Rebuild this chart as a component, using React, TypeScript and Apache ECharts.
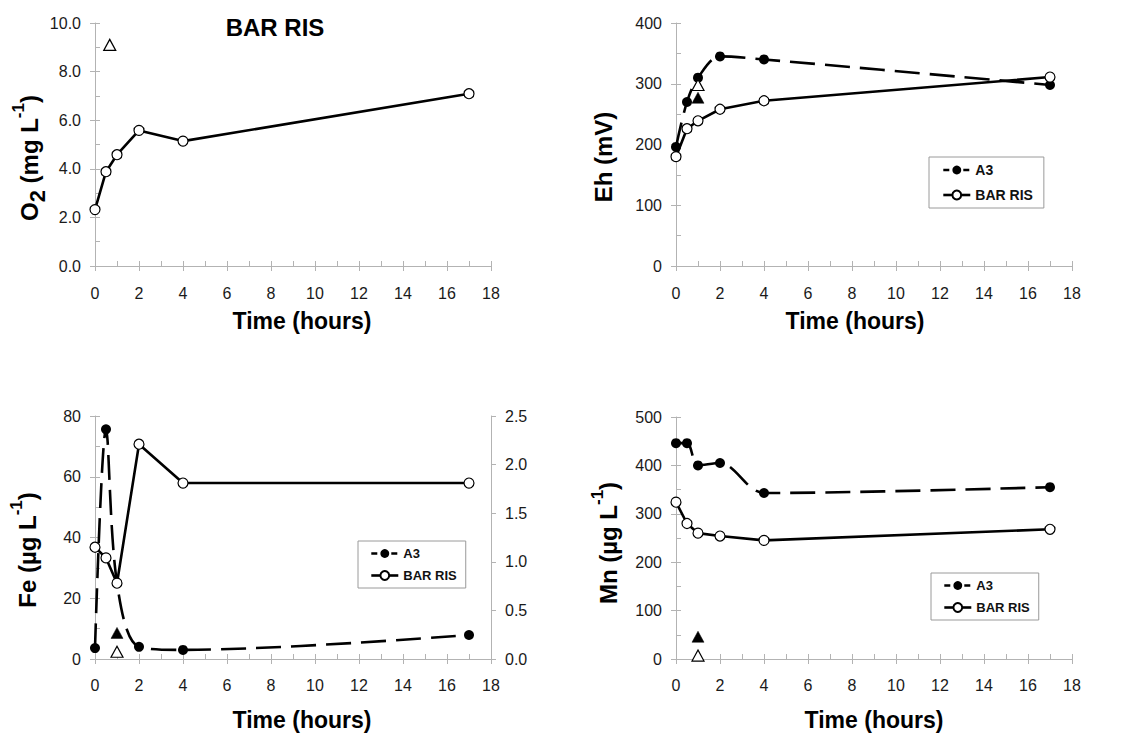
import React, { useEffect, useRef } from "react";
import * as echarts from "echarts";

// Sampling times (hours) shared by every series
const hours = [0, 0.5, 1, 2, 4, 17];

// Dissolved oxygen, mg/L
const o2BarRis = [2.32, 3.88, 4.58, 5.58, 5.14, 7.09];
const o2OpenTriangle = [[0.67, 9.1]];

// Redox potential, mV
const ehA3 = [196, 270, 310, 345, 340, 298];
const ehBarRis = [180, 226, 239, 258, 272, 311];
const ehFilledTriangle = [[1, 277]];
const ehOpenTriangle = [[1, 298]];

// Iron, µg/L (BAR RIS read on the secondary axis)
const feA3 = [3.6, 75.6, 25, 4.0, 3.0, 7.9];
const feBarRis = [1.15, 1.04, 0.78, 2.21, 1.81, 1.81];
const feFilledTriangle = [[1, 8.6]];
const feOpenTriangle = [[1, 2.4]];

// Manganese, µg/L
const mnA3 = [446, 446, 400, 405, 343, 355];
const mnBarRis = [324, 280, 260, 254, 245, 268];
const mnFilledTriangle = [[1, 46]];
const mnOpenTriangle = [[1, 7]];

const legendNames = ["A3", "BAR RIS"];

const FONT = '"Liberation Sans", Arial, Helvetica, sans-serif';
const AXIS_GRAY = "#b3b3b3";
const LABEL_COLOR = "#1a1a1a";

const grids = [
  { left: 95, top: 23, width: 396, height: 243 },
  { left: 676, top: 23, width: 396, height: 243 },
  { left: 95, top: 416, width: 396, height: 243 },
  { left: 676, top: 417, width: 396, height: 242 },
];

function timeAxes(gridIndex: number, labelMargin: number) {
  return [
    {
      type: "value",
      gridIndex,
      position: "bottom",
      min: 0,
      max: 18,
      interval: 2,
      axisLine: { show: true, onZero: false, lineStyle: { color: AXIS_GRAY, width: 1 } },
      axisTick: { show: true, inside: false, length: 5, lineStyle: { color: AXIS_GRAY } },
      axisLabel: { color: LABEL_COLOR, fontSize: 16, fontFamily: FONT, margin: labelMargin },
      splitLine: { show: false },
    },
    {
      type: "value",
      gridIndex,
      position: "bottom",
      min: 0,
      max: 18,
      interval: 1,
      axisLine: { show: false },
      axisTick: { show: true, inside: true, length: 5, lineStyle: { color: AXIS_GRAY } },
      axisLabel: { show: false },
      splitLine: { show: false },
    },
  ];
}

function valueAxes(gridIndex: number, max: number, interval: number, decimals: number) {
  return [
    {
      type: "value",
      gridIndex,
      position: "left",
      min: 0,
      max,
      interval,
      axisLine: { show: true, onZero: false, lineStyle: { color: AXIS_GRAY, width: 1 } },
      axisTick: { show: true, inside: false, length: 5, lineStyle: { color: AXIS_GRAY } },
      axisLabel: {
        color: LABEL_COLOR,
        fontSize: 16,
        fontFamily: FONT,
        margin: 14,
        formatter: (v: number) => v.toFixed(decimals),
      },
      splitLine: { show: false },
    },
    {
      type: "value",
      gridIndex,
      position: "left",
      min: 0,
      max,
      interval: interval / 2,
      axisLine: { show: false, onZero: false },
      axisTick: { show: true, inside: true, length: 5, lineStyle: { color: AXIS_GRAY } },
      axisLabel: { show: false },
      splitLine: { show: false },
    },
  ];
}

const pairs = (ys: number[]) => hours.map((h, i) => [h, ys[i]]);

function lineSeries(
  name: string,
  xAxisIndex: number,
  yAxisIndex: number,
  ys: number[],
  filled: boolean,
  smooth: boolean
) {
  return {
    type: "line",
    name,
    xAxisIndex,
    yAxisIndex,
    data: pairs(ys),
    symbol: "circle",
    symbolSize: 10,
    smooth: smooth ? 0.33 : false,
    z: filled ? 2 : 3,
    itemStyle: filled
      ? { color: "#000", borderColor: "#000", borderWidth: 0 }
      : { color: "#fff", borderColor: "#000", borderWidth: 1.2 },
    lineStyle: { color: "#000", width: 2.6, type: filled ? [25, 10] : "solid" },
    emphasis: { disabled: true },
  };
}

function triangle(name: string, xAxisIndex: number, yAxisIndex: number, data: number[][], filled: boolean) {
  return {
    type: "scatter",
    name,
    xAxisIndex,
    yAxisIndex,
    data,
    symbol: "triangle",
    symbolSize: [12, 11],
    z: 4,
    itemStyle: filled
      ? { color: "#000", borderColor: "#000", borderWidth: 0.5, opacity: 1 }
      : { color: "#fff", borderColor: "#000", borderWidth: 1.2, opacity: 1 },
    emphasis: { disabled: true },
  };
}

function legendBox(left: number, top: number, fontSize: number, gap: number, padding: number[]) {
  return {
    show: true,
    orient: "vertical",
    left,
    top,
    padding,
    itemGap: gap,
    itemWidth: 27,
    itemHeight: 11,
    borderColor: "#9a9a9a",
    borderWidth: 1,
    backgroundColor: "#fff",
    selectedMode: false,
    textStyle: { color: "#111", fontSize, fontWeight: "bold", fontFamily: FONT },
    data: [
      { name: legendNames[0], lineStyle: { type: [6, 4], width: 2.6 } },
      { name: legendNames[1], lineStyle: { type: "solid", width: 2.6 } },
    ],
  };
}

const titleFont = `bold 23px ${FONT}`;

function xTitle(x: number, y: number) {
  return {
    type: "text",
    x,
    y,
    silent: true,
    style: {
      text: "Time (hours)",
      font: titleFont,
      fill: "#000",
      textAlign: "center",
      textVerticalAlign: "middle",
      align: "center",
      verticalAlign: "middle",
    },
  };
}

const richTitle = {
  b: { fontSize: 24, fontWeight: "bold", fontFamily: FONT, color: "#000", lineHeight: 38 },
  sub: { fontSize: 22, fontWeight: "bold", fontFamily: FONT, color: "#000", lineHeight: 32, verticalAlign: "bottom" },
  sup: { fontSize: 17, fontWeight: "bold", fontFamily: FONT, color: "#000", lineHeight: 17, verticalAlign: "top" },
};

function yTitle(x: number, y: number, text: string) {
  return {
    type: "text",
    x,
    y,
    rotation: Math.PI / 2,
    silent: true,
    style: {
      text,
      rich: richTitle,
      fill: "#000",
      textAlign: "center",
      textVerticalAlign: "middle",
      align: "center",
      verticalAlign: "middle",
    },
  };
}

export default function App() {
  const ref = useRef<HTMLDivElement>(null);

  useEffect(() => {
    if (!ref.current) return;
    const chart = echarts.init(ref.current, null, { renderer: "svg" });

    const xAxis = [
      ...timeAxes(0, 19),
      ...timeAxes(1, 19),
      ...timeAxes(2, 18),
      ...timeAxes(3, 18),
    ];

    const yAxis = [
      ...valueAxes(0, 10, 2, 1), // 0,1
      ...valueAxes(1, 400, 100, 0), // 2,3
      ...valueAxes(2, 80, 20, 0), // 4,5
      {
        type: "value",
        gridIndex: 2,
        position: "right",
        min: 0,
        max: 2.5,
        interval: 0.5,
        axisLine: { show: true, onZero: false, lineStyle: { color: AXIS_GRAY, width: 1 } },
        axisTick: { show: true, inside: false, length: 5, lineStyle: { color: AXIS_GRAY } },
        axisLabel: {
          color: LABEL_COLOR,
          fontSize: 16,
          fontFamily: FONT,
          margin: 14,
          formatter: (v: number) => v.toFixed(1),
        },
        splitLine: { show: false },
      }, // 6
      ...valueAxes(3, 500, 100, 0), // 7,8
    ];

    const series = [
      // O2
      lineSeries("BAR RIS", 0, 0, o2BarRis, false, false),
      triangle("O2 marker", 0, 0, o2OpenTriangle, false),
      // Eh
      lineSeries("A3", 2, 2, ehA3, true, true),
      lineSeries("BAR RIS", 2, 2, ehBarRis, false, false),
      triangle("Eh filled", 2, 2, ehFilledTriangle, true),
      triangle("Eh open", 2, 2, ehOpenTriangle, false),
      // Fe
      lineSeries("A3", 4, 4, feA3, true, true),
      lineSeries("BAR RIS", 4, 6, feBarRis, false, false),
      triangle("Fe filled", 4, 4, feFilledTriangle, true),
      triangle("Fe open", 4, 4, feOpenTriangle, false),
      // Mn
      lineSeries("A3", 6, 7, mnA3, true, true),
      lineSeries("BAR RIS", 6, 7, mnBarRis, false, false),
      triangle("Mn filled", 6, 7, mnFilledTriangle, true),
      triangle("Mn open", 6, 7, mnOpenTriangle, false),
    ];

    chart.setOption({
      animation: false,
      backgroundColor: "#fff",
      grid: grids.map((g) => ({ ...g, containLabel: false })),
      xAxis,
      yAxis,
      series,
      legend: [
        legendBox(929, 157, 14, 11, [6, 11, 6, 13]),
        legendBox(358, 541, 13, 9, [6, 9, 6, 12]),
        legendBox(931, 573, 13, 9, [6, 9, 6, 12]),
      ],
      graphic: [
        {
          type: "text",
          x: 275,
          y: 27,
          silent: true,
          style: {
            text: "BAR RIS",
            font: `bold 24px ${FONT}`,
            fill: "#000",
            textAlign: "center",
            textVerticalAlign: "middle",
            align: "center",
            verticalAlign: "middle",
          },
        },
        xTitle(302, 321),
        xTitle(855, 321),
        xTitle(302, 720),
        xTitle(874, 720),
        yTitle(29, 158, "{b|O}{sub|2}{b| (mg L}{sup|-1}{b|)}"),
        yTitle(603, 157, "{b|Eh (mV)}"),
        yTitle(27, 550, "{b|Fe (µg L}{sup|-1}{b|)}"),
        yTitle(608, 543, "{b|Mn (µg L}{sup|-1}{b|)}"),
      ],
    });

    return () => chart.dispose();
  }, []);

  return (
    <div
      ref={ref}
      style={{ position: "absolute", left: 0, top: 0, width: 1121, height: 734 }}
    />
  );
}
